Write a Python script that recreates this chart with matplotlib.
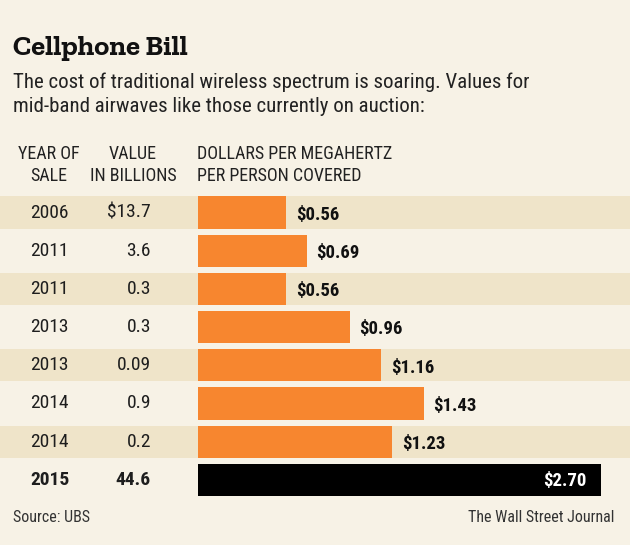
import matplotlib.pyplot as plt
from matplotlib.patches import Rectangle

years = ["2006", "2011", "2011", "2013", "2013", "2014", "2014", "2015"]
values = ["$13.7", "3.6", "0.3", "0.3", "0.09", "0.9", "0.2", "44.6"]
dollars = [0.56, 0.69, 0.56, 0.96, 1.16, 1.43, 1.23, 2.70]
bar_labels = ["$0.56", "$0.69", "$0.56", "$0.96", "$1.16", "$1.43", "$1.23", "$2.70"]

bg = "#f7f2e6"
stripe = "#efe4c9"
orange = "#f7862f"
narrow = ["Roboto Condensed", "PT Sans Narrow", "DejaVu Sans"]
slab = ["Zilla Slab", "Roboto Slab", "DejaVu Serif"]

W, H = 630, 545
fig = plt.figure(figsize=(W / 100, H / 100), dpi=100)
fig.patch.set_facecolor(bg)

n = len(years)
top_px, pitch = 193.4, 38.2
bottom = 1 - (top_px + pitch * n) / H
height = pitch * n / H

# table axes, full width, for stripes and text columns
ax = fig.add_axes([0, bottom, 1, height])
ax.set_xlim(0, W)
ax.set_ylim(n - 0.5, -0.5)
ax.axis("off")
bh = 0.84
for i in range(n):
    if i % 2 == 0 and i < n - 1:
        ax.add_patch(Rectangle((0, i - bh / 2), W, bh, color=stripe, lw=0))
    w = "bold" if i == n - 1 else "normal"
    ax.text(30, i, years[i], ha="left", va="center", fontsize=14,
            family=narrow, weight=w, color="#1e1e1e")
    ax.text(151, i, values[i], ha="right", va="center", fontsize=14,
            family=narrow, weight=w, color="#1e1e1e")

# bar axes, right edge clips the 2015 bar like the original
x0, x1 = 198, 601
px_per_dollar = 158
bx = fig.add_axes([x0 / W, bottom, (x1 - x0) / W, height])
bx.set_xlim(0, (x1 - x0) / px_per_dollar)
bx.set_ylim(n - 0.5, -0.5)
bx.axis("off")
bx.patch.set_alpha(0)
cols = [orange] * (n - 1) + ["black"]
bx.barh(range(n), dollars, height=bh, color=cols, lw=0)
for i in range(n - 1):
    bx.text(dollars[i] + 0.06, i + 0.06, bar_labels[i], ha="left", va="center",
            fontsize=13.5, family=narrow, weight="bold", color="#111111")
bx.text(0.965, n - 1 + 0.03, bar_labels[-1], transform=bx.get_yaxis_transform(),
        ha="right", va="center", fontsize=13.5, family=narrow, weight="bold",
        color="white")

# titles and headers
fig.text(13 / W, 1 - 55 / H, "Cellphone Bill", fontsize=20.5, weight="bold",
         family=slab, color="#111111")
fig.text(13 / W, 1 - 88 / H,
         "The cost of traditional wireless spectrum is soaring. Values for",
         fontsize=15, family=narrow, color="#222222")
fig.text(13 / W, 1 - 112 / H, "mid-band airwaves like those currently on auction:",
         fontsize=15, family=narrow, color="#222222")

fig.text(49 / W, 1 - 165 / H, "YEAR OF\nSALE", ha="center", va="center",
         fontsize=13, family=narrow, color="#222222", linespacing=1.25)
fig.text(133 / W, 1 - 165 / H, "VALUE\nIN BILLIONS", ha="center", va="center",
         fontsize=13, family=narrow, color="#222222", linespacing=1.25)
fig.text(197 / W, 1 - 165 / H, "DOLLARS PER MEGAHERTZ\nPER PERSON COVERED",
         ha="left", va="center", fontsize=13, family=narrow, color="#222222",
         linespacing=1.25)

fig.text(13 / W, 1 - 517 / H, "Source: UBS", ha="left", va="center",
         fontsize=11.5, family=narrow, color="#333333")
fig.text(614 / W, 1 - 517 / H, "The Wall Street Journal", ha="right", va="center",
         fontsize=11.5, family=narrow, color="#333333")

fig.savefig("out.png", dpi=100, facecolor=bg)
